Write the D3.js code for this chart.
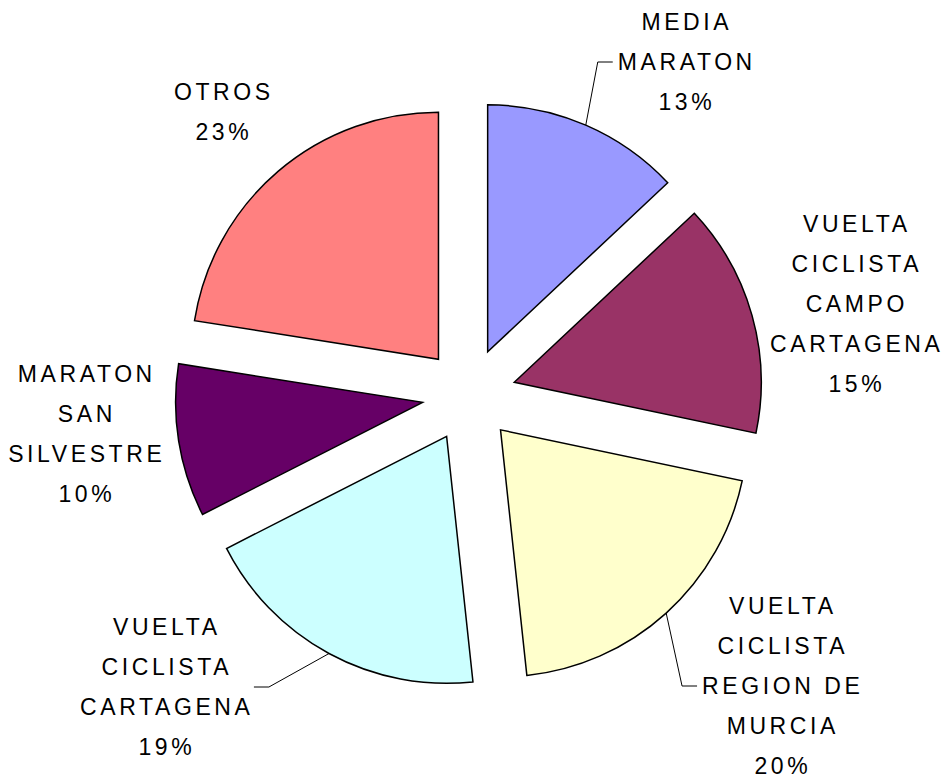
<!DOCTYPE html>
<html>
<head>
<meta charset="utf-8">
<script src="https://cdn.jsdelivr.net/npm/d3@7"></script>
<style>
  body { margin: 0; background: #fff; }
  text { font-family: "Liberation Sans", Arial, sans-serif; font-size: 23px; fill: #000; letter-spacing: 3.6px; }
</style>
</head>
<body>
<div id="chart"></div>
<script>
// Events and their share of the total (%), clockwise from 12 o'clock
const events = [
  ["MEDIA", "MARATON"],
  ["VUELTA", "CICLISTA", "CAMPO", "CARTAGENA"],
  ["VUELTA", "CICLISTA", "REGION DE", "MURCIA"],
  ["VUELTA", "CICLISTA", "CARTAGENA"],
  ["MARATON", "SAN", "SILVESTRE"],
  ["OTROS"]
];
const shares = [13.0, 15.3, 20.0, 19.2, 10.0, 22.5];
const colors = ["#9999FF", "#993366", "#FFFFCC", "#CCFFFF", "#660066", "#FF8080"];

// label placement: block centre and whether a leader line is drawn
const labelLayout = [
  { x: 685, y: 62, leader: "left" },
  { x: 855, y: 304, leader: null },
  { x: 781, y: 686, leader: "left" },
  { x: 165, y: 687, leader: "right" },
  { x: 85, y: 434, leader: null },
  { x: 222, y: 112, leader: null }
];

const width = 944, height = 776;
const cx = 469, cy = 395, radius = 247, explode = 47;
const lineH = 40;
const spacing = 3.6;

const svg = d3.select("#chart").append("svg")
  .attr("width", width)
  .attr("height", height);

const pie = d3.pie().sort(null).value(d => d);
const arcs = pie(shares);
const arc = d3.arc().innerRadius(0).outerRadius(radius);

// offset of an exploded slice along its bisector
function shift(d, r) {
  const a = (d.startAngle + d.endAngle) / 2;
  return [cx + r * Math.sin(a), cy - r * Math.cos(a)];
}

svg.append("g")
  .selectAll("path")
  .data(arcs)
  .join("path")
  .attr("transform", d => `translate(${shift(d, explode)})`)
  .attr("d", arc)
  .attr("fill", (d, i) => colors[i])
  .attr("stroke", "#000")
  .attr("stroke-width", 1.5)
  .attr("stroke-linejoin", "miter");

const labels = svg.append("g")
  .selectAll("g")
  .data(arcs)
  .join("g");

labels.each(function (d, i) {
  const g = d3.select(this);
  const lay = labelLayout[i];
  const lines = events[i].concat([Math.round(shares[i]) + "%"]);
  const top = lay.y - (lines.length - 1) * lineH / 2;
  const t = g.selectAll("text")
    .data(lines)
    .join("text")
    .attr("x", lay.x + spacing / 2)
    .attr("y", (l, k) => top + k * lineH + 8)
    .attr("text-anchor", "middle")
    .text(l => l);

  if (!lay.leader) return;
  let maxW = 0;
  t.each(function () { maxW = Math.max(maxW, this.getComputedTextLength() - spacing); });
  const a = (d.startAngle + d.endAngle) / 2;
  const c = shift(d, explode);
  const start = [c[0] + radius * Math.sin(a), c[1] - radius * Math.cos(a)];
  const edge = lay.leader === "left" ? lay.x - maxW / 2 - 5 : lay.x + maxW / 2 + 4;
  const elbow = lay.leader === "left" ? edge - 15 : edge + 15;
  g.append("path")
    .attr("d", d3.line()([start, [elbow, lay.y], [edge, lay.y]]))
    .attr("fill", "none")
    .attr("stroke", "#000")
    .attr("stroke-width", 1);
});
</script>
</body>
</html>
